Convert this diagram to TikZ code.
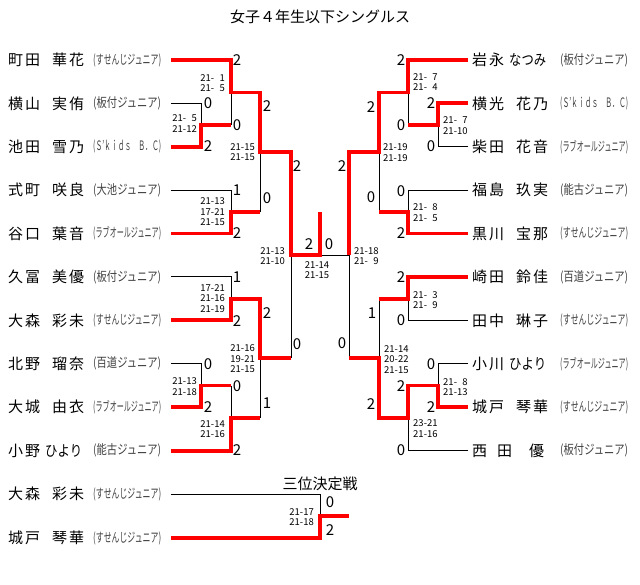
\documentclass[tikz,border=0pt]{standalone}
\usepackage{fontspec}
\usepackage{graphicx}
\setmainfont{Noto Sans CJK JP}
\newfontfamily\namefont[LetterSpace=13]{Noto Sans CJK JP}
\newfontfamily\kanafont{Noto Sans CJK JP}

\newcommand{\jname}[2]{\makebox[44pt][l]{#1}#2}
\newcommand{\kname}[2]{\makebox[37pt][l]{#1}\resizebox{37pt}{\height}{\kanafont #2}}
\newcommand{\club}[1]{\resizebox{68pt}{\height}{(#1)}}
\newcommand{\fsp}{\phantom{0}}

\begin{document}
\begin{tikzpicture}[x=1pt, y=-1pt,
	lose/.style={black, line width=1pt},
	win/.style={red, line width=3.8pt},
	pname/.style={anchor=west, inner sep=0pt, font={\namefont\fontsize{15}{15}\selectfont}},
	club/.style={anchor=west, inner sep=0pt, text=black!75, font={\fontsize{13}{13}\selectfont}},
	num/.style={inner sep=0pt, font={\fontsize{15}{15}\selectfont}},
	pts/.style={inner sep=0pt, align=center, font={\fontsize{9.5}{10.5}\selectfont}},
	ptl/.style={pts, anchor=east, align=right},
	ptr/.style={pts, anchor=west, align=left},
	head/.style={inner sep=0pt, font={\fontsize{15}{15}\selectfont}}]
	\useasboundingbox (0,0) rectangle (640,585);

	\node[head] (title) at (320,17) {女子４年生以下シングルス};
	\node[head] (third) at (320,484) {三位決定戦};

	% left side players
	\node[pname] (l0) at (8,60) {\jname{町田}{華花}};
	\node[pname] (l1) at (8,103.4) {\jname{横山}{実侑}};
	\node[pname] (l2) at (8,146.8) {\jname{池田}{雪乃}};
	\node[pname] (l3) at (8,190.2) {\jname{式町}{咲良}};
	\node[pname] (l4) at (8,233.6) {\jname{谷口}{葉音}};
	\node[pname] (l5) at (8,277) {\jname{久冨}{美優}};
	\node[pname] (l6) at (8,320.4) {\jname{大森}{彩未}};
	\node[pname] (l7) at (8,363.8) {\jname{北野}{瑠奈}};
	\node[pname] (l8) at (8,407.2) {\jname{大城}{由衣}};
	\node[pname] (l9) at (8,450.6) {\kname{小野}{ひより}};
	\node[club] (cl0) at (93,60) {\club{すせんじジュニア}};
	\node[club] (cl1) at (93,103.4) {\club{板付ジュニア}};
	\node[club] (cl2) at (93,146.8) {\club{Ｓ’ｋｉｄｓ　Ｂ．Ｃ}};
	\node[club] (cl3) at (93,190.2) {\club{大池ジュニア}};
	\node[club] (cl4) at (93,233.6) {\club{ラブオールジュニア}};
	\node[club] (cl5) at (93,277) {\club{板付ジュニア}};
	\node[club] (cl6) at (93,320.4) {\club{すせんじジュニア}};
	\node[club] (cl7) at (93,363.8) {\club{百道ジュニア}};
	\node[club] (cl8) at (93,407.2) {\club{ラブオールジュニア}};
	\node[club] (cl9) at (93,450.6) {\club{能古ジュニア}};

	% right side players
	\node[pname] (r0) at (472,60) {\kname{岩永}{なつみ}};
	\node[pname] (r1) at (472,103.4) {\jname{横光}{花乃}};
	\node[pname] (r2) at (472,146.8) {\jname{柴田}{花音}};
	\node[pname] (r3) at (472,190.2) {\jname{福島}{玖実}};
	\node[pname] (r4) at (472,233.6) {\jname{黒川}{宝那}};
	\node[pname] (r5) at (472,277) {\jname{崎田}{鈴佳}};
	\node[pname] (r6) at (472,320.4) {\jname{田中}{琳子}};
	\node[pname] (r7) at (472,363.8) {\kname{小川}{ひより}};
	\node[pname] (r8) at (472,407.2) {\jname{城戸}{琴華}};
	\node[pname] (r9) at (472,450.6) {\jname{西\hspace{10pt}田}{\hspace{13pt}優}};
	\node[club] (cr0) at (560,60) {\club{板付ジュニア}};
	\node[club] (cr1) at (560,103.4) {\club{Ｓ’ｋｉｄｓ　Ｂ．Ｃ}};
	\node[club] (cr2) at (560,146.8) {\club{ラブオールジュニア}};
	\node[club] (cr3) at (560,190.2) {\club{能古ジュニア}};
	\node[club] (cr4) at (560,233.6) {\club{すせんじジュニア}};
	\node[club] (cr5) at (560,277) {\club{百道ジュニア}};
	\node[club] (cr6) at (560,320.4) {\club{すせんじジュニア}};
	\node[club] (cr7) at (560,363.8) {\club{ラブオールジュニア}};
	\node[club] (cr8) at (560,407.2) {\club{すせんじジュニア}};
	\node[club] (cr9) at (560,450.6) {\club{板付ジュニア}};

	% third place players
	\node[pname] (t0) at (8,494) {\jname{大森}{彩未}};
	\node[pname] (t1) at (8,538) {\jname{城戸}{琴華}};
	\node[club] (ct0) at (93,494) {\club{すせんじジュニア}};
	\node[club] (ct1) at (93,538) {\club{すせんじジュニア}};

	% line starts and match points
	\coordinate (pL0) at (171,60);    \coordinate (pR0) at (468,60);
	\coordinate (pL1) at (171,103.4); \coordinate (pR1) at (468,103.4);
	\coordinate (pL2) at (171,146.8); \coordinate (pR2) at (468,146.8);
	\coordinate (pL3) at (171,190.2); \coordinate (pR3) at (468,190.2);
	\coordinate (pL4) at (171,233.6); \coordinate (pR4) at (468,233.6);
	\coordinate (pL5) at (171,277);   \coordinate (pR5) at (468,277);
	\coordinate (pL6) at (171,320.4); \coordinate (pR6) at (468,320.4);
	\coordinate (pL7) at (171,363.8); \coordinate (pR7) at (468,363.8);
	\coordinate (pL8) at (171,407.2); \coordinate (pR8) at (468,407.2);
	\coordinate (pL9) at (171,450.6); \coordinate (pR9) at (468,450.6);
	\coordinate (mL1) at (201,125.1); \coordinate (mR1) at (438,125.1);
	\coordinate (mL2) at (231,92.6);  \coordinate (mR2) at (408,92.6);
	\coordinate (mL3) at (231,211.9); \coordinate (mR3) at (408,211.9);
	\coordinate (mL4) at (260,152.2); \coordinate (mR4) at (379,152.2);
	\coordinate (mL5) at (231,298.7); \coordinate (mR5) at (408,298.7);
	\coordinate (mL6) at (201,385.5); \coordinate (mR6) at (438,385.5);
	\coordinate (mL7) at (231,418.1); \coordinate (mR7) at (408,418.1);
	\coordinate (mL8) at (260,358.4); \coordinate (mR8) at (379,358.4);
	\coordinate (mL9) at (291,255.3); \coordinate (mR9) at (349,255.3);
	\coordinate (f) at (320,255.3);
	\coordinate (ft) at (320,212);
	\coordinate (pT0) at (171,494);
	\coordinate (pT1) at (171,538);
	\coordinate (t) at (320,516);
	\coordinate (te) at (349,516);

	% losing lines
	\draw[lose] (pL1) -| (mL1);
	\draw[lose] (mL2 |- mL1) -- (mL2);
	\draw[lose] (pL3) -| (mL3);
	\draw[lose] (mL4 |- mL3) -- (mL4);
	\draw[lose] (pL5) -| (mL5);
	\draw[lose] (pL7) -| (mL6);
	\draw[lose] (mL7 |- mL6) -- (mL7);
	\draw[lose] (mL8 |- mL7) -- (mL8);
	\draw[lose] (mL9 |- mL8) -- (mL9);
	\draw[lose] (f) -- (mR9);
	\draw[lose] (pR2) -| (mR1);
	\draw[lose] (mR2 |- mR1) -- (mR2);
	\draw[lose] (pR3) -| (mR3);
	\draw[lose] (mR4 |- mR3) -- (mR4);
	\draw[lose] (pR6) -| (mR5);
	\draw[lose] (mR8 |- mR5) -- (mR8);
	\draw[lose] (pR7) -| (mR6);
	\draw[lose] (pR9) -| (mR7);
	\draw[lose] (mR9 |- mR8) -- (mR9);
	\draw[lose] (pT0) -| (t);

	% winning lines
	\draw[win] (pL0) -| (mL2) -| (mL4) -| (mL9) -- (f) -- (ft);
	\draw[win] (pL2) -| (mL1) -- (mL2 |- mL1);
	\draw[win] (pL4) -| (mL3) -- (mL4 |- mL3);
	\draw[win] (pL6) -| (mL5) -| (mL8) -- (mL9 |- mL8);
	\draw[win] (pL8) -| (mL6) -- (mL7 |- mL6);
	\draw[win] (pL9) -| (mL7) -- (mL8 |- mL7);
	\draw[win] (pR0) -| (mR2) -| (mR4) -| (mR9);
	\draw[win] (pR1) -| (mR1) -- (mR2 |- mR1);
	\draw[win] (pR4) -| (mR3) -- (mR4 |- mR3);
	\draw[win] (pR5) -| (mR5) -- (mR8 |- mR5);
	\draw[win] (pR8) -| (mR6) -| (mR7) -| (mR8) -- (mR9 |- mR8);
	\draw[win] (pT1) -| (t) -- (te);

	% games won
	\node[num] (dl0) at (237,60) {2};
	\node[num] (dl1) at (208,103) {0};
	\node[num] (dl2) at (208,146) {2};
	\node[num] (dl3) at (237,190) {1};
	\node[num] (dl4) at (237,233) {2};
	\node[num] (dl5) at (237,277) {1};
	\node[num] (dl6) at (237,321) {2};
	\node[num] (dl7) at (208,364) {0};
	\node[num] (dl8) at (208,407) {2};
	\node[num] (dl9) at (237,450) {2};
	\node[num] (wl1) at (237,125) {0};
	\node[num] (wl2) at (267,106) {2};
	\node[num] (wl3) at (267,198) {0};
	\node[num] (wl4) at (297,166) {2};
	\node[num] (wl5) at (267,313) {2};
	\node[num] (wl6) at (237,386) {0};
	\node[num] (wl7) at (267,403) {1};
	\node[num] (wl8) at (297,344) {0};
	\node[num] (wlf) at (309,244) {2};
	\node[num] (dr0) at (401,60) {2};
	\node[num] (dr1) at (431,103) {2};
	\node[num] (dr2) at (431,146) {0};
	\node[num] (dr3) at (401,191) {0};
	\node[num] (dr4) at (401,233) {2};
	\node[num] (dr5) at (401,277) {2};
	\node[num] (dr6) at (401,320) {0};
	\node[num] (dr7) at (431,364) {0};
	\node[num] (dr8) at (431,407) {2};
	\node[num] (dr9) at (401,450) {0};
	\node[num] (wr1) at (401,125) {0};
	\node[num] (wr2) at (371,107) {2};
	\node[num] (wr3) at (371,197) {0};
	\node[num] (wr4) at (342,166) {2};
	\node[num] (wr5) at (372,313) {1};
	\node[num] (wr6) at (401,386) {2};
	\node[num] (wr7) at (371,404) {2};
	\node[num] (wr8) at (342,343) {0};
	\node[num] (wrf) at (329,244) {0};
	\node[num] (dt0) at (330,502) {0};
	\node[num] (dt1) at (330,530) {2};

	% game scores
	\node[ptl] (sl1) at (197,123.5) {21-\fsp5\\21-12};
	\node[ptl] (sl2) at (225,83) {21-\fsp1\\21-\fsp5};
	\node[ptl] (sl3) at (225,212) {21-13\\17-21\\21-15};
	\node[ptl] (sl4) at (255,152) {21-15\\21-15};
	\node[ptl] (sl5) at (225,298.5) {17-21\\21-16\\21-19};
	\node[ptl] (sl6) at (197,386.5) {21-13\\21-18};
	\node[ptl] (sl7) at (225,429) {21-14\\21-16};
	\node[ptl] (sl8) at (255,359) {21-16\\19-21\\21-15};
	\node[ptl] (sl9) at (285,256) {21-13\\21-10};
	\node[pts] (sf) at (317,270) {21-14\\21-15};
	\node[ptr] (sr2) at (413,82) {21-\fsp7\\21-\fsp4};
	\node[ptr] (sr1) at (443,125.5) {21-\fsp7\\21-10};
	\node[ptr] (sr4) at (383,152.5) {21-19\\21-19};
	\node[ptr] (sr3) at (413,212.5) {21-\fsp8\\21-\fsp5};
	\node[ptr] (sr9) at (354,256) {21-18\\21-\fsp9};
	\node[ptr] (sr5) at (413,300) {21-\fsp3\\21-\fsp9};
	\node[ptr] (sr8) at (384,359.5) {21-14\\20-22\\21-15};
	\node[ptr] (sr6) at (443,387) {21-\fsp8\\21-13};
	\node[ptr] (sr7) at (413,428.5) {23-21\\21-16};
	\node[ptl] (st) at (314,517) {21-17\\21-18};
\end{tikzpicture}
\end{document}
